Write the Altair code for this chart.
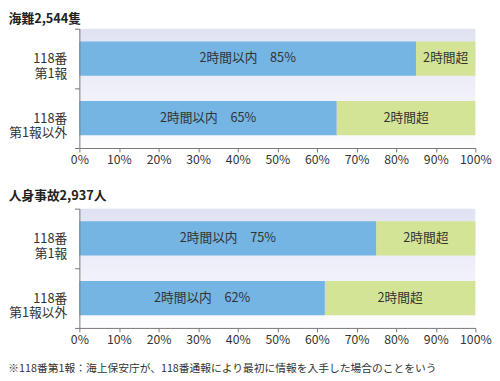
import altair as alt
import pandas as pd

FONT = "Noto Sans CJK JP"
BLUE = "#74b5e3"
GREEN = "#d3e496"
TEXT = "#333333"
AXIS = "#777777"

categories = ["118番\n第1報", "118番\n第1報以外"]
panel_titles = ["海難2,544隻", "人身事故2,937人"]
within_values = [[85, 65], [75, 62]]
within_label = "2時間以内"
over_label = "2時間超"
x_ticks = [0, 10, 20, 30, 40, 50, 60, 70, 80, 90, 100]
footnote = "※118番第1報：海上保安庁が、118番通報により最初に情報を入手した場合のことをいう"

PW, PH = 405, 122

bg = alt.LinearGradient(
    gradient="linear", x1=0, y1=0, x2=0, y2=1,
    stops=[alt.GradientStop(offset=0, color="#e0e2f3"),
           alt.GradientStop(offset=1, color="#fdfdfe")],
)


def panel(title, within, offset):
    df = pd.DataFrame({"cat": categories, "within": within})
    base = alt.Chart(df).transform_calculate(
        zero="0",
        full="100",
        mid1="datum.within / 2",
        mid2="(datum.within + 100) / 2",
        lab=f"'{within_label}\u3000' + datum.within + '%'",
        olab=f"'{over_label}'",
    )
    y = alt.Y(
        "cat:N", sort=categories, title=None,
        scale=alt.Scale(paddingInner=0, paddingOuter=0),
        axis=alt.Axis(
            labelExpr="split(datum.label, '\\n')",
            labelLineHeight=15, labelFont=FONT, labelFontSize=13,
            labelColor=TEXT, labelPadding=8, tickBand="extent",
            tickSize=5, tickColor=AXIS, domainColor=AXIS, zindex=1,
        ),
    )
    xscale = alt.Scale(domain=[0, 100], nice=False)
    xaxis = alt.Axis(
        values=x_ticks, labelExpr="datum.value + '%'", title=None,
        grid=False, tickSize=4, tickColor=AXIS, domainColor=AXIS,
        labelFont=FONT, labelFontSize=12.5, labelColor=TEXT, labelPadding=2,
        labelOverlap=False, labelFlush=False, zindex=1,
    )
    back = alt.Chart(pd.DataFrame({"b": [0]})).mark_rect(color=bg).encode(
        x=alt.value(0), x2=alt.value(PW), y=alt.value(0), y2=alt.value(PH))
    blue = base.mark_bar(color=BLUE, size=35).encode(
        x=alt.X("zero:Q", scale=xscale, axis=xaxis), x2="within:Q", y=y)
    green = base.mark_bar(color=GREEN, size=35).encode(
        x=alt.X("within:Q"), x2="full:Q", y=y)
    t1 = base.mark_text(font=FONT, fontSize=13, color=TEXT).encode(
        x="mid1:Q", y=y, text="lab:N")
    t2 = base.mark_text(font=FONT, fontSize=13, color=TEXT).encode(
        x="mid2:Q", y=y, text="olab:N")
    return alt.layer(back, blue, green, t1, t2).properties(
        width=PW, height=PH,
        title=alt.TitleParams(text=title, anchor="start", font=FONT,
                              fontSize=13, fontWeight="bold", color="#222222",
                              offset=offset, frame="bounds"),
    )


p1 = panel(panel_titles[0], within_values[0], -3)
p2 = panel(panel_titles[1], within_values[1], 0)

chart = alt.vconcat(p1, p2, spacing=23).properties(
    padding=0,
    title=alt.TitleParams(text=footnote, orient="bottom", anchor="start",
                          font=FONT, fontSize=11, fontWeight="normal",
                          color=TEXT, offset=17, frame="bounds"),
).configure_view(stroke="transparent")

chart.save("out.html", embed_options={"renderer": "svg", "actions": False})
